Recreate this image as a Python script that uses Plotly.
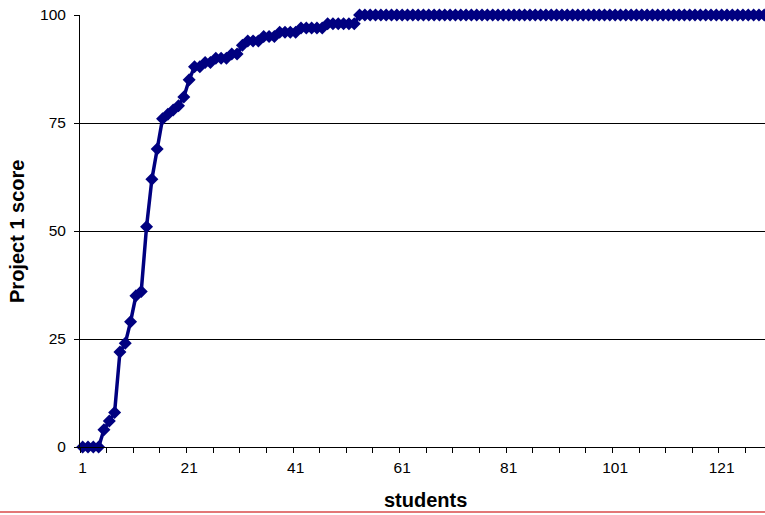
import plotly.graph_objects as go

students = list(range(1, 131))
scores = [
    0, 0, 0, 0, 4, 6, 8, 22, 24, 29,
    35, 36, 51, 62, 69, 76, 77, 78, 79, 81,
    85, 88, 88, 89, 89, 90, 90, 90, 91, 91,
    93, 94, 94, 94, 95, 95, 95, 96, 96, 96,
    96, 97, 97, 97, 97, 97, 98, 98, 98, 98,
    98, 98, 100, 100, 100, 100, 100, 100, 100, 100,
    100, 100, 100, 100, 100, 100, 100, 100, 100, 100,
    100, 100, 100, 100, 100, 100, 100, 100, 100, 100,
    100, 100, 100, 100, 100, 100, 100, 100, 100, 100,
    100, 100, 100, 100, 100, 100, 100, 100, 100, 100,
    100, 100, 100, 100, 100, 100, 100, 100, 100, 100,
    100, 100, 100, 100, 100, 100, 100, 100, 100, 100,
    100, 100, 100, 100, 100, 100, 100, 100, 100, 100,
]
x_tick_vals = [1, 21, 41, 61, 81, 101, 121]
x_tick_text = ["1", "21", "41", "61", "81", "101", "121"]
y_tick_vals = [0, 25, 50, 75, 100]

FONT = "Liberation Sans, Arial, sans-serif"
NAVY = "#000080"

fig = go.Figure(
    go.Scatter(
        x=students,
        y=scores,
        mode="lines+markers",
        line=dict(color=NAVY, width=3.5),
        marker=dict(symbol="diamond", size=10, color=NAVY),
        cliponaxis=False,
        showlegend=False,
        hoverinfo="skip",
    )
)

fig.update_layout(
    width=765,
    height=515,
    margin=dict(l=80, r=0, t=15, b=68),
    paper_bgcolor="white",
    plot_bgcolor="white",
    font=dict(family=FONT, size=15, color="black"),
    xaxis=dict(
        range=[0.5, 129.14],
        tickmode="array",
        tickvals=x_tick_vals,
        ticktext=x_tick_text,
        ticks="",
        showgrid=False,
        zeroline=False,
        showline=True,
        linecolor="black",
        linewidth=1,
        tickfont=dict(family=FONT, size=15.5, color="black"),
        ticklabelstandoff=6,
        minor=dict(tickmode="linear", tick0=0.5, dtick=5, ticks="outside",
                   ticklen=5, tickcolor="black", tickwidth=1, showgrid=False),
    ),
    yaxis=dict(
        range=[0, 100],
        tickmode="array",
        tickvals=y_tick_vals,
        ticks="outside",
        ticklen=5,
        tickcolor="black",
        showgrid=True,
        gridcolor="black",
        gridwidth=1,
        zeroline=False,
        showline=True,
        linecolor="black",
        linewidth=1,
        ticklabelstandoff=5,
        tickfont=dict(family=FONT, size=15.5, color="black"),
    ),
    annotations=[
        dict(text="<b>Project 1 score</b>", xref="paper", yref="paper",
             x=-0.092, y=0.5, textangle=-90, showarrow=False,
             font=dict(family=FONT, size=20, color="black"),
             xanchor="center", yanchor="middle"),
        dict(text="<b>students</b>", xref="paper", yref="paper",
             x=0.505, y=-0.1227, showarrow=False,
             font=dict(family=FONT, size=20, color="black"),
             xanchor="center", yanchor="middle"),
    ],
    shapes=[
        dict(type="line", xref="paper", yref="paper",
             x0=-0.1168, x1=1.0, y0=-0.1505, y1=-0.1505,
             line=dict(color="#d84a4a", width=1.5)),
    ],
)

fig.write_html(
    "out.html",
    config={"displayModeBar": False},
    post_script="document.body.style.margin='0px';document.body.style.overflow='hidden';",
)
